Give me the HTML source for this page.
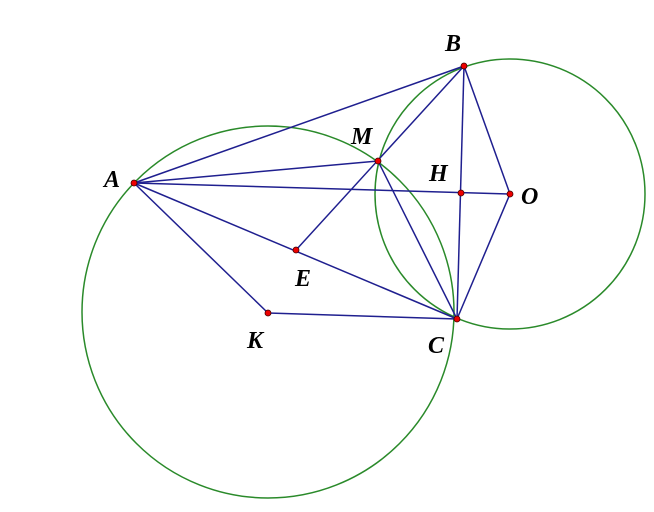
<!DOCTYPE html>
<html><head><style>body{margin:0;background:#fff}svg{display:block}</style></head><body>
<svg width="654" height="512" xmlns="http://www.w3.org/2000/svg">
<g fill="none" stroke="#2a8a2a" stroke-width="1.5">
<circle cx="268" cy="312" r="186"/>
<circle cx="510" cy="194" r="135"/>
</g>
<g stroke="#1f1f8f" stroke-width="1.5">
<line x1="134" y1="183" x2="464" y2="66"/>
<line x1="134" y1="183" x2="378" y2="161"/>
<line x1="134" y1="183" x2="510" y2="194"/>
<line x1="134" y1="183" x2="457" y2="319"/>
<line x1="134" y1="183" x2="268" y2="313"/>
<line x1="268" y1="313" x2="457" y2="319"/>
<line x1="464" y1="66" x2="296" y2="250"/>
<line x1="378" y1="161" x2="457" y2="319"/>
<line x1="464" y1="66" x2="457" y2="319"/>
<line x1="464" y1="66" x2="510" y2="194"/>
<line x1="510" y1="194" x2="457" y2="319"/>
</g>
<g fill="#e00" stroke="#400" stroke-width="0.8">
<circle cx="134" cy="183" r="3"/><circle cx="464" cy="66" r="3"/><circle cx="378" cy="161" r="3"/>
<circle cx="461" cy="193" r="3"/><circle cx="510" cy="194" r="3"/><circle cx="296" cy="250" r="3"/>
<circle cx="268" cy="313" r="3"/><circle cx="457" cy="319" r="3"/>
</g>
<g font-family="Liberation Serif, serif" font-style="italic" font-weight="bold" font-size="24" fill="#000">
<text x="104" y="187">A</text><text x="445" y="51">B</text><text x="351" y="144">M</text>
<text x="429" y="181">H</text><text x="521" y="204">O</text><text x="295" y="286">E</text>
<text x="247" y="348">K</text><text x="428" y="353">C</text>
</g>
</svg>
</body></html>
